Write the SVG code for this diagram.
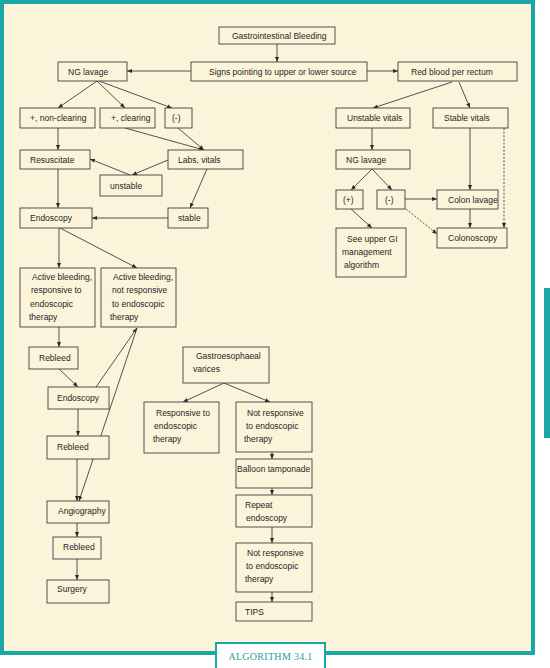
<svg xmlns="http://www.w3.org/2000/svg" width="550" height="668" viewBox="0 0 550 668">
<style>
.bx{fill:#FBF4DA;stroke:#3f3f3f;stroke-width:0.9}
.t{font-family:"Liberation Sans",Arial,sans-serif;font-size:8.5px;fill:#262626}
.c line{stroke:#3f3f3f;stroke-width:0.9;marker-end:url(#ah)}
.c line.d{stroke-dasharray:2,1.6}
.alg{font-family:"Liberation Serif","Times New Roman",serif;font-size:10px;fill:#2a9c9b;letter-spacing:0.3px}
</style>
<defs>
<marker id="ah" viewBox="0 0 10 10" refX="10" refY="5" markerWidth="5" markerHeight="5" orient="auto" markerUnits="userSpaceOnUse">
<path d="M0,1 L10,5 L0,9 z" fill="#2a2a2a"/>
</marker>
</defs>
<rect x="0" y="0" width="550" height="668" fill="#ffffff"/>
<rect x="2" y="2" width="531" height="651" fill="#FBF4DA" stroke="#1AA8A6" stroke-width="4"/>
<rect x="544" y="288" width="6" height="150" fill="#1AA8A6"/>

<g class="c" id="connectors">
<line x1="277" y1="44" x2="277" y2="62"/>
<line x1="191" y1="71" x2="127" y2="71"/>
<line x1="367" y1="71" x2="398" y2="71"/>
<line x1="97" y1="81" x2="58" y2="108"/>
<line x1="97" y1="81" x2="125" y2="108"/>
<line x1="99" y1="81" x2="172" y2="108"/>
<line x1="58" y1="128" x2="58" y2="150"/>
<line x1="125" y1="128" x2="204" y2="150"/>
<line x1="178" y1="128" x2="204" y2="150"/>
<line x1="168" y1="160" x2="132" y2="175"/>
<line x1="130" y1="175" x2="90" y2="159"/>
<line x1="207" y1="169" x2="190" y2="208"/>
<line x1="168" y1="218" x2="92" y2="218"/>
<line x1="58" y1="169" x2="58" y2="208"/>
<line x1="59" y1="228" x2="59" y2="268"/>
<line x1="60" y1="228" x2="137" y2="268"/>
<line x1="59" y1="327" x2="59" y2="347"/>
<line x1="59" y1="369" x2="78" y2="387"/>
<line x1="96" y1="387" x2="137" y2="328"/>
<line x1="137" y1="328" x2="79" y2="501"/>
<line x1="78" y1="409" x2="78" y2="436"/>
<line x1="77" y1="459" x2="77" y2="501"/>
<line x1="77" y1="523" x2="77" y2="537"/>
<line x1="77" y1="559" x2="77" y2="580"/>
<line x1="224" y1="383" x2="183" y2="402"/>
<line x1="224" y1="383" x2="270" y2="402"/>
<line x1="272" y1="452" x2="272" y2="459"/>
<line x1="272" y1="488" x2="272" y2="495"/>
<line x1="272" y1="527" x2="272" y2="543"/>
<line x1="272" y1="592" x2="272" y2="602"/>
<line x1="452" y1="82" x2="373" y2="108"/>
<line x1="459" y1="82" x2="470" y2="108"/>
<line x1="372" y1="128" x2="372" y2="150"/>
<line x1="372" y1="169" x2="351" y2="190"/>
<line x1="372" y1="169" x2="392" y2="190"/>
<line x1="351" y1="209" x2="372" y2="228"/>
<line x1="405" y1="199" x2="437" y2="199"/>
<line class="d" x1="406" y1="209" x2="437" y2="234"/>
<line x1="470" y1="128" x2="470" y2="190"/>
<line x1="470" y1="209" x2="470" y2="228"/>
<line class="d" x1="504" y1="128" x2="504" y2="228"/>
</g>

<g id="gi"><rect class="bx" x="219" y="27" width="116" height="17"/><text class="t" x="232" y="38.5">Gastrointestinal Bleeding</text></g>
<g id="signs"><rect class="bx" x="191" y="62" width="176" height="19"/><text class="t" x="209" y="74.5">Signs pointing to upper or lower source</text></g>
<g id="nglavage1"><rect class="bx" x="58" y="62" width="69" height="19"/><text class="t" x="68" y="74.5">NG lavage</text></g>
<g id="redblood"><rect class="bx" x="398" y="62" width="119" height="19"/><text class="t" x="411" y="74.5">Red blood per rectum</text></g>

<g id="noncl"><rect class="bx" x="20" y="108" width="75" height="20"/><text class="t" x="30" y="121">+, non-clearing</text></g>
<g id="clear"><rect class="bx" x="100" y="108" width="55" height="20"/><text class="t" x="111" y="121">+, clearing</text></g>
<g id="neg1"><rect class="bx" x="165" y="108" width="27" height="20"/><text class="t" x="172" y="121">(-)</text></g>
<g id="resusc"><rect class="bx" x="20" y="150" width="70" height="19"/><text class="t" x="30" y="162.5">Resuscitate</text></g>
<g id="labs"><rect class="bx" x="168" y="150" width="75" height="19"/><text class="t" x="178" y="162.5">Labs, vitals</text></g>
<g id="unstable"><rect class="bx" x="100" y="175" width="62" height="21"/><text class="t" x="110" y="188.5">unstable</text></g>
<g id="stable"><rect class="bx" x="168" y="208" width="40" height="20"/><text class="t" x="178" y="221">stable</text></g>
<g id="endo1"><rect class="bx" x="20" y="208" width="72" height="20"/><text class="t" x="30" y="221">Endoscopy</text></g>

<g id="activeresp"><rect class="bx" x="20" y="268" width="75" height="59"/><text class="t"><tspan x="32" y="280">Active bleeding,</tspan><tspan x="31" y="293">responsive to</tspan><tspan x="30" y="306.5">endoscopic</tspan><tspan x="29" y="320">therapy</tspan></text></g>
<g id="activenot"><rect class="bx" x="101" y="268" width="75" height="59"/><text class="t"><tspan x="113" y="280">Active bleeding,</tspan><tspan x="112" y="293">not responsive</tspan><tspan x="112" y="306.5">to endoscopic</tspan><tspan x="110" y="320">therapy</tspan></text></g>
<g id="rebleed1"><rect class="bx" x="29" y="347" width="49" height="22"/><text class="t" x="39" y="360.5">Rebleed</text></g>
<g id="endo2"><rect class="bx" x="48" y="387" width="61" height="22"/><text class="t" x="57" y="400.5">Endoscopy</text></g>
<g id="rebleed2"><rect class="bx" x="47" y="436" width="62" height="23"/><text class="t" x="57" y="449.5">Rebleed</text></g>
<g id="angio"><rect class="bx" x="47" y="501" width="62" height="22"/><text class="t" x="58" y="514">Angiography</text></g>
<g id="rebleed3"><rect class="bx" x="53" y="537" width="48" height="22"/><text class="t" x="63" y="549.5">Rebleed</text></g>
<g id="surgery"><rect class="bx" x="47" y="580" width="62" height="23"/><text class="t" x="57" y="592">Surgery</text></g>

<g id="varices"><rect class="bx" x="183" y="347" width="86" height="36"/><text class="t"><tspan x="196" y="359">Gastroesophaeal</tspan><tspan x="193" y="371.5">varices</tspan></text></g>
<g id="responsive"><rect class="bx" x="144" y="402" width="75" height="51"/><text class="t"><tspan x="156" y="416">Responsive  to</tspan><tspan x="154" y="429">endoscopic</tspan><tspan x="153" y="441.5">therapy</tspan></text></g>
<g id="notresp1"><rect class="bx" x="236" y="402" width="76" height="50"/><text class="t"><tspan x="247" y="416">Not responsive</tspan><tspan x="246" y="429">to endoscopic</tspan><tspan x="244" y="441.5">therapy</tspan></text></g>
<g id="balloon"><rect class="bx" x="236" y="459" width="76" height="29"/><text class="t" x="237" y="472">Balloon tamponade</text></g>
<g id="repeat"><rect class="bx" x="236" y="495" width="76" height="32"/><text class="t"><tspan x="245" y="508">Repeat</tspan><tspan x="246" y="521">endoscopy</tspan></text></g>
<g id="notresp2"><rect class="bx" x="236" y="543" width="76" height="49"/><text class="t"><tspan x="247" y="556">Not responsive</tspan><tspan x="246" y="569">to endoscopic</tspan><tspan x="245" y="581.5">therapy</tspan></text></g>
<g id="tips"><rect class="bx" x="236" y="602" width="76" height="19"/><text class="t" x="245" y="615">TIPS</text></g>

<g id="unstablevitals"><rect class="bx" x="336" y="108" width="74" height="20"/><text class="t" x="347" y="121">Unstable vitals</text></g>
<g id="stablevitals"><rect class="bx" x="433" y="108" width="75" height="20"/><text class="t" x="444" y="121">Stable vitals</text></g>
<g id="nglavage2"><rect class="bx" x="336" y="150" width="74" height="19"/><text class="t" x="346" y="162.5">NG lavage</text></g>
<g id="pos"><rect class="bx" x="336" y="190" width="27" height="19"/><text class="t" x="343" y="202.5">(+)</text></g>
<g id="neg2"><rect class="bx" x="377" y="190" width="28" height="19"/><text class="t" x="385" y="202.5">(-)</text></g>
<g id="colonlavage"><rect class="bx" x="437" y="190" width="61" height="19"/><text class="t" x="448" y="202.5">Colon lavage</text></g>
<g id="colonoscopy"><rect class="bx" x="437" y="228" width="70" height="20"/><text class="t" x="448" y="241">Colonoscopy</text></g>
<g id="seeupper"><rect class="bx" x="336" y="228" width="70" height="49"/><text class="t"><tspan x="347" y="242">See upper GI</tspan><tspan x="342" y="254.5">management</tspan><tspan x="344" y="267.5">algorithm</tspan></text></g>

<g id="algorithm"><rect x="216" y="643" width="109" height="27" fill="#ffffff" stroke="#1AA8A6" stroke-width="2"/><text class="alg" x="270.5" y="660" text-anchor="middle">ALGORITHM 34.1</text></g>
</svg>
